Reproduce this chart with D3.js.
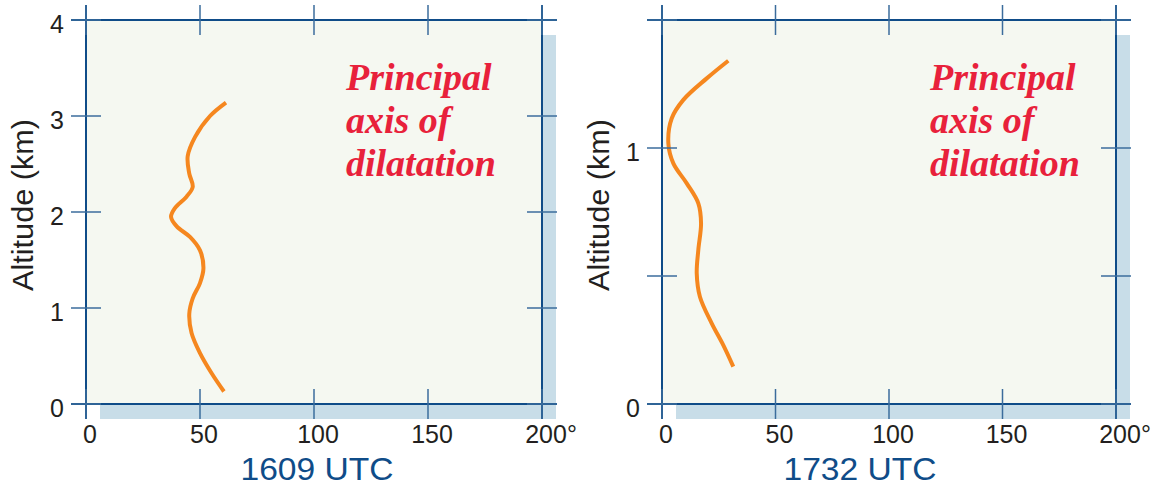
<!DOCTYPE html>
<html>
<head>
<meta charset="utf-8">
<script src="https://cdn.jsdelivr.net/npm/d3@7"></script>
<style>
  html, body { margin: 0; padding: 0; background: #ffffff; }
  svg { display: block; }
</style>
</head>
<body>
<svg id="chart" width="1151" height="492"></svg>
<script>
// ---------- data ----------
const xTicks = [0, 50, 100, 150, 200];
const xTickLabels = ["0", "50", "100", "150", "200"];

const leftTitle = "1609 UTC";
const leftYTicks = [0, 1, 2, 3, 4];
const leftYTickLabels = ["0", "1", "2", "3", "4"];
// [direction (deg), altitude (km)]
const leftDir = [61.4, 54.4, 47.8, 44.6, 45.3, 46.8, 44.1, 39.0, 37.3, 39.8, 45.6, 50.0, 51.5, 50.0, 46.8, 45.3, 46.3, 50.0, 55.1, 60.5];
const leftAlt = [3.14, 3.00, 2.78, 2.58, 2.40, 2.26, 2.16, 2.04, 1.95, 1.85, 1.74, 1.60, 1.41, 1.26, 1.10, 0.94, 0.74, 0.53, 0.32, 0.13];

const rightTitle = "1732 UTC";
const rightYTicks = [0, 0.5, 1, 1.5];
const rightYTickLabels = ["0", "", "1", ""];
const rightDir = [29.2, 19.7, 9.4, 4.3, 2.8, 5.0, 10.9, 16.0, 17.2, 16.0, 15.3, 16.7, 21.9, 27.0, 31.4];
const rightAlt = [1.341, 1.272, 1.188, 1.116, 1.018, 0.940, 0.862, 0.784, 0.706, 0.602, 0.510, 0.419, 0.315, 0.230, 0.146];

const annotationLines = ["Principal", "axis of", "dilatation"];
const yAxisTitle = "Altitude (km)";

// ---------- drawing ----------
const svg = d3.select("#chart");
const sans = "'Liberation Sans', Arial, Helvetica, sans-serif";
const serif = "'Liberation Serif', 'Times New Roman', Times, serif";
const frameColor = "#0f4c88";
const tickColor = "#3b6c9c";

function panel(cfg) {
  const { left, right, top, bottom, yMax, yTicks, yLabels, dir, alt, title, titleX, annX } = cfg;
  const x = d3.scaleLinear().domain([0, 200]).range([left, right]);
  const y = d3.scaleLinear().domain([0, yMax]).range([bottom, top]);
  const g = svg.append("g");

  // shadow
  g.append("rect")
    .attr("x", left + 14).attr("y", top + 15)
    .attr("width", right - left).attr("height", bottom - top)
    .attr("fill", "#c8dde8");
  // plot background
  g.append("rect")
    .attr("x", left).attr("y", top)
    .attr("width", right - left).attr("height", bottom - top)
    .attr("fill", "#f5f8f1");

  // curve
  const line = d3.line()
    .x((d, i) => x(dir[i]))
    .y((d, i) => y(alt[i]))
    .curve(d3.curveCatmullRom.alpha(0.5));
  g.append("path")
    .datum(dir)
    .attr("d", line)
    .attr("fill", "none")
    .attr("stroke", "#f5871f")
    .attr("stroke-width", 4)
    .attr("stroke-linecap", "butt");

  // frame lines (extended beyond corners)
  const T = 15;
  g.append("line").attr("x1", left).attr("x2", left).attr("y1", top - T).attr("y2", bottom + T)
    .attr("stroke", frameColor).attr("stroke-width", 2);
  g.append("line").attr("x1", right).attr("x2", right).attr("y1", top - T).attr("y2", bottom + T)
    .attr("stroke", frameColor).attr("stroke-width", 2);
  g.append("line").attr("x1", left - T).attr("x2", right + T).attr("y1", top).attr("y2", top)
    .attr("stroke", frameColor).attr("stroke-width", 2);
  g.append("line").attr("x1", left - T).attr("x2", right + T).attr("y1", bottom).attr("y2", bottom)
    .attr("stroke", frameColor).attr("stroke-width", 2);

  // x ticks (top & bottom, crossing)
  xTicks.forEach(v => {
    [top, bottom].forEach(yy => {
      g.append("line").attr("x1", x(v)).attr("x2", x(v)).attr("y1", yy - T).attr("y2", yy + T)
        .attr("stroke", tickColor).attr("stroke-width", 1.5);
    });
  });
  // y ticks (left & right, crossing)
  yTicks.forEach(v => {
    [left, right].forEach(xx => {
      g.append("line").attr("x1", xx - T).attr("x2", xx + T).attr("y1", y(v)).attr("y2", y(v))
        .attr("stroke", tickColor).attr("stroke-width", 1.5);
    });
  });

  // x tick labels
  xTicks.forEach((v, i) => {
    g.append("text")
      .attr("x", x(v) + 4).attr("y", bottom + 39)
      .attr("text-anchor", "middle")
      .attr("font-family", sans).attr("font-size", 25)
      .attr("fill", "#231f20")
      .text(xTickLabels[i]);
    if (i === xTicks.length - 1) {
      g.append("text")
        .attr("x", x(v) + 25).attr("y", bottom + 39)
        .attr("text-anchor", "start")
        .attr("font-family", sans).attr("font-size", 25)
        .attr("fill", "#231f20")
        .text("°");
    }
  });
  // y tick labels
  yTicks.forEach((v, i) => {
    if (!yLabels[i]) return;
    g.append("text")
      .attr("x", left - 22).attr("y", y(v) + 13)
      .attr("text-anchor", "end")
      .attr("font-family", sans).attr("font-size", 25)
      .attr("fill", "#231f20")
      .text(yLabels[i]);
  });

  // y-axis title
  g.append("text")
    .attr("transform", `translate(${left - 53},205) rotate(-90)`)
    .attr("text-anchor", "middle")
    .attr("font-family", sans).attr("font-size", 29)
    .attr("textLength", 172).attr("lengthAdjust", "spacingAndGlyphs")
    .attr("fill", "#231f20")
    .text(yAxisTitle);

  // bottom title
  g.append("text")
    .attr("x", titleX).attr("y", 480)
    .attr("text-anchor", "middle")
    .attr("font-family", sans).attr("font-size", 31)
    .attr("textLength", 153).attr("lengthAdjust", "spacingAndGlyphs")
    .attr("fill", "#0f4c88")
    .text(title);

  // annotation
  const ann = g.append("text")
    .attr("font-family", serif).attr("font-size", 38)
    .attr("font-weight", "bold").attr("font-style", "italic")
    .attr("fill", "#e8213b");
  annotationLines.forEach((s, i) => {
    ann.append("tspan")
      .attr("x", annX).attr("y", 90 + i * 43)
      .text(s);
  });
}

panel({ left: 86, right: 542, top: 20, bottom: 404, yMax: 4,
        yTicks: leftYTicks, yLabels: leftYTickLabels,
        dir: leftDir, alt: leftAlt, title: leftTitle, titleX: 317, annX: 346 });
panel({ left: 662, right: 1116, top: 20, bottom: 404, yMax: 1.5,
        yTicks: rightYTicks, yLabels: rightYTickLabels,
        dir: rightDir, alt: rightAlt, title: rightTitle, titleX: 860, annX: 930 });
</script>
</body>
</html>
